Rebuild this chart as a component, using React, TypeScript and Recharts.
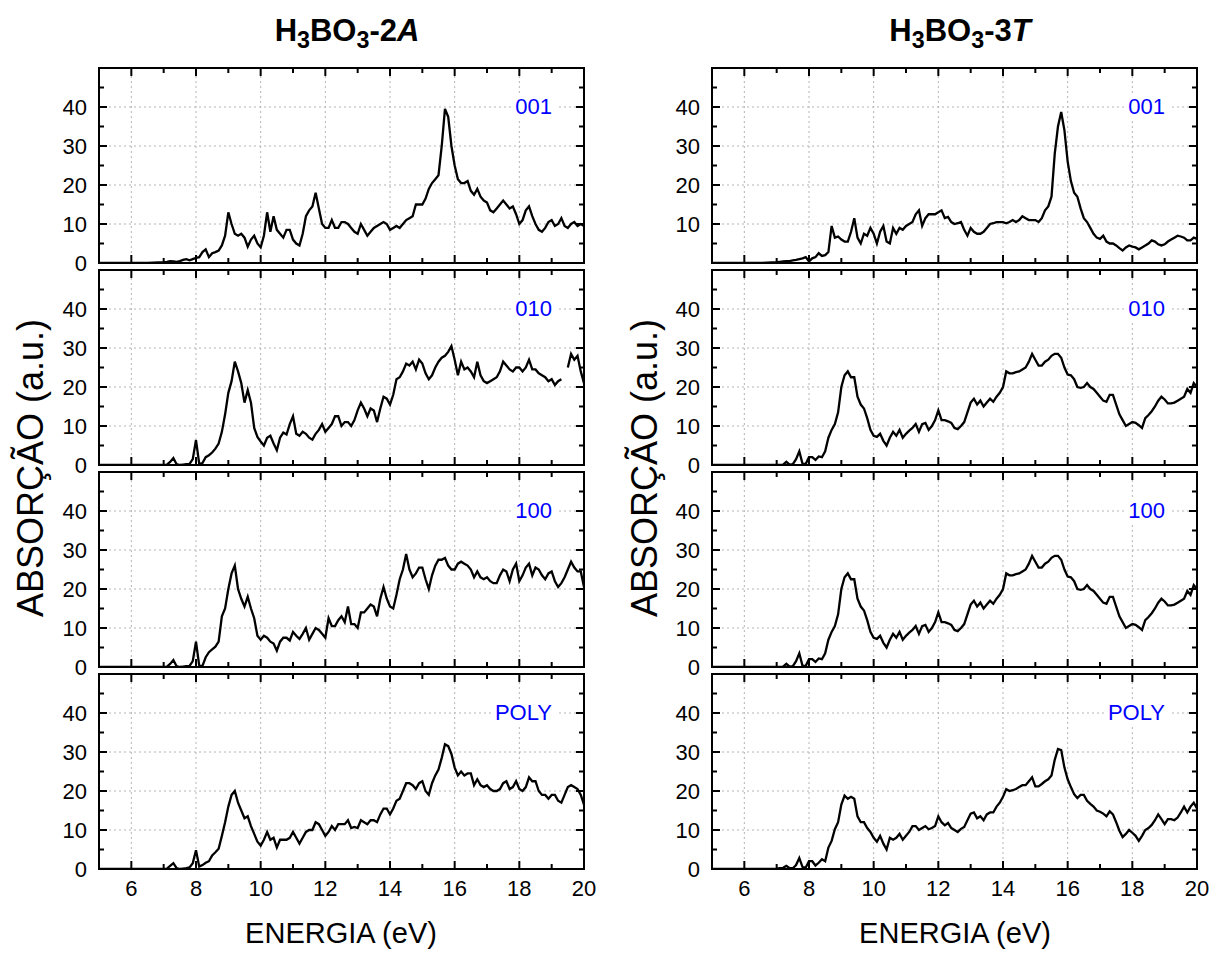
// Espectros de absorção do H3BO3 (fases 2A e 3T), quatro polarizações cada
import { LineChart, Line, XAxis, YAxis, ReferenceLine, ReferenceArea, ReferenceDot } from "recharts";

const FONTE = 'Arial, "Liberation Sans", sans-serif';

// eixo de energia (eV)
const energia = [
  5, 6, 6.5,
  7.0, 7.1, 7.2, 7.3, 7.4, 7.5, 7.6, 7.7, 7.8, 7.9,
  8.0, 8.1, 8.2, 8.3, 8.4, 8.5, 8.6, 8.7, 8.8, 8.9,
  9.0, 9.1, 9.2, 9.3, 9.4, 9.5, 9.6, 9.7, 9.8, 9.9,
  10.0, 10.1, 10.2, 10.3, 10.4, 10.5, 10.6, 10.7, 10.8, 10.9,
  11.0, 11.1, 11.2, 11.3, 11.4, 11.5, 11.6, 11.7, 11.8, 11.9,
  12.0, 12.1, 12.2, 12.3, 12.4, 12.5, 12.6, 12.7, 12.8, 12.9,
  13.0, 13.1, 13.2, 13.3, 13.4, 13.5, 13.6, 13.7, 13.8, 13.9,
  14.0, 14.1, 14.2, 14.3, 14.4, 14.5, 14.6, 14.7, 14.8, 14.9,
  15.0, 15.1, 15.2, 15.3, 15.4, 15.5, 15.6, 15.7, 15.8, 15.9,
  16.0, 16.1, 16.2, 16.3, 16.4, 16.5, 16.6, 16.7, 16.8, 16.9,
  17.0, 17.1, 17.2, 17.3, 17.4, 17.5, 17.6, 17.7, 17.8, 17.9,
  18.0, 18.1, 18.2, 18.3, 18.4, 18.5, 18.6, 18.7, 18.8, 18.9,
  19.0, 19.1, 19.2, 19.3, 19.4, 19.5, 19.6, 19.7, 19.8, 19.9,
  20.0,
];

// H3BO3-2A
const abs2A_001 = [
  0, 0, 0,
  0.2, 0.3, 0.5, 0.4, 0.3, 0.5, 0.8, 1.0, 0.7, 1.0,
  1.3, 1.5, 2.8, 3.5, 1.5, 2.5, 2.8, 3.2, 4.5, 7.0,
  13.0, 10.0, 7.5, 7.0, 7.5, 6.5, 4.2, 6.0, 7.0, 5.0,
  4.0, 7.0, 13.0, 8.0, 12.0, 8.5, 7.5, 6.5, 8.5, 8.5,
  6.0, 5.0, 4.5, 7.5, 12.0, 13.5, 14.5, 18.0, 14.0, 10.0,
  9.0, 9.0, 11.0, 9.0, 9.0, 10.5, 10.5, 10.0, 9.0, 8.0,
  7.5, 10.0, 8.5, 7.0, 8.0, 9.0, 9.5, 10.0, 10.5, 10.0,
  8.5, 9.0, 9.5, 9.0, 10.0, 11.0, 11.5, 12.0, 15.0, 15.0,
  15.0, 16.5, 19.0, 20.5, 21.5, 22.5, 30.0, 39.5, 37.5, 30.0,
  25.0, 21.5, 20.5, 20.5, 21.0, 18.5, 17.5, 19.0, 17.0, 16.0,
  15.5, 13.5, 13.0, 14.0, 15.0, 16.0, 15.0, 14.0, 14.5, 12.5,
  10.0, 11.0, 13.5, 14.5, 12.0, 10.0, 8.5, 8.0, 9.0, 10.5,
  11.0, 9.5, 10.0, 11.5, 9.5, 9.0, 10.0, 10.5, 9.5, 10.0,
  9.5,
];

const abs2A_010 = [
  0, 0, 0,
  0, 0.1, 0.8, 1.8, 0.2, 0, 0.1, 0.2, 0.3, 1.5,
  6.4, 0.3, 0.5, 2.0, 2.5, 3.2, 4.2, 5.5, 8.5, 13.0,
  18.5, 21.5, 26.5, 24.0, 21.0, 16.0, 19.2, 16.0, 9.5, 7.2,
  6.0, 5.0, 7.0, 7.5, 5.5, 3.8, 7.0, 8.3, 7.8, 10.5,
  12.5, 8.0, 7.5, 8.5, 8.0, 7.0, 6.5, 8.0, 9.0, 10.5,
  8.5, 9.5, 10.5, 12.5, 12.5, 10.0, 11.0, 11.0, 10.0, 11.5,
  14.0, 16.0, 14.5, 12.5, 14.5, 14.0, 11.0, 14.5, 17.5, 17.0,
  15.5, 18.0, 22.0, 22.5, 24.0, 26.0, 25.5, 26.5, 24.5, 27.0,
  26.0, 23.5, 22.0, 23.0, 25.0, 26.5, 27.5, 28.0, 29.0, 30.5,
  27.0, 23.0, 26.5, 24.5, 25.0, 24.0, 22.5, 26.5, 23.0, 21.5,
  21.0, 21.5, 22.0, 22.5, 24.0, 26.5, 25.5, 24.5, 24.0, 25.0,
  25.0, 24.0, 25.0, 27.0, 24.5, 24.5, 23.5, 23.0, 22.5, 21.5,
  22.0, 20.5, 21.5, 22.0, null, 25.0, 28.5, 27.0, 28.0, 24.0,
  21.0,
];

const abs2A_100 = [
  0, 0, 0,
  0, 0.1, 0.8, 1.8, 0.2, 0, 0.1, 0.2, 0.3, 1.5,
  6.5, 0.3, 0.3, 2.5, 3.8, 4.5, 5.2, 6.5, 13.0, 15.0,
  20.0, 24.0, 26.0, 20.0, 17.5, 15.5, 18.0, 15.0, 12.5, 8.0,
  7.0, 8.0, 7.5, 6.5, 6.0, 4.2, 6.5, 7.5, 7.5, 6.8,
  9.0, 8.0, 7.2, 8.5, 10.0, 7.0, 8.5, 10.0, 9.5, 8.5,
  7.5, 12.5, 10.5, 10.5, 12.0, 13.0, 11.5, 15.5, 11.0, 11.0,
  10.0, 14.0, 14.0, 15.0, 16.0, 15.5, 13.0, 17.5, 20.5, 17.5,
  15.5, 15.0, 18.5, 22.5, 25.0, 29.0, 25.0, 23.0, 24.0, 25.5,
  25.5, 22.5, 20.0, 23.5, 26.0, 27.5, 27.5, 28.0, 26.0, 25.0,
  25.0, 26.5, 27.0, 26.5, 26.0, 25.0, 23.0, 24.5, 23.0, 22.5,
  23.0, 22.0, 21.5, 21.5, 23.5, 25.0, 24.5, 22.0, 25.0, 26.5,
  22.0, 23.5, 25.5, 26.5, 23.5, 25.5, 25.0, 23.5, 22.5, 24.0,
  24.5, 22.0, 20.5, 21.5, 23.0, 25.0, 27.0, 25.5, 24.5, 24.5,
  20.5,
];

const abs2A_poly = [
  0, 0, 0,
  0, 0.1, 0.8, 1.5, 0.2, 0, 0.1, 0.2, 0.4, 1.5,
  4.8, 0.6, 1.0, 1.6, 2.0, 3.5, 4.3, 5.2, 8.5, 12.0,
  16.0, 19.0, 20.0, 17.0, 15.0, 13.0, 13.5, 11.0, 9.0, 7.0,
  6.0, 7.5, 9.5, 7.5, 8.0, 5.5, 7.5, 7.5, 7.5, 8.0,
  9.5, 8.0, 6.5, 8.0, 9.5, 10.0, 10.0, 12.0, 11.5, 10.0,
  8.5, 9.5, 11.0, 10.0, 11.5, 11.5, 11.5, 12.5, 10.5, 10.8,
  10.5, 12.5, 12.0, 11.5, 12.5, 12.5, 12.0, 14.0, 15.5, 15.5,
  14.0, 15.5, 17.5, 18.0, 20.0, 22.0, 22.0, 21.5, 20.5, 22.0,
  22.5, 20.0, 19.0, 22.0, 24.0, 25.5, 28.5, 32.0, 31.5, 29.5,
  26.0, 24.0, 25.0, 24.0, 24.5, 24.5, 21.5, 23.0, 21.5, 21.0,
  21.5, 20.5, 20.0, 20.0, 20.5, 22.0, 22.5, 20.5, 21.0, 22.5,
  20.5, 20.0, 21.0, 23.5, 22.5, 22.5, 20.0, 19.0, 19.0, 18.0,
  19.0, 19.0, 17.5, 17.0, 19.0, 21.0, 21.5, 21.0, 20.5, 19.0,
  16.5,
];

// H3BO3-3T
const abs3T_001 = [
  0, 0, 0,
  0.2, 0.3, 0.4, 0.5, 0.5, 0.7, 0.8, 1.0, 1.2, 1.5,
  0.4, 1.2, 1.5, 2.5, 1.8, 2.0, 2.8, 9.5, 6.5, 6.8,
  6.0, 5.5, 5.5, 8.0, 11.5, 6.5, 5.0, 7.5, 7.0, 9.0,
  7.5, 5.0, 8.0, 9.5, 5.5, 5.0, 9.0, 7.5, 9.0, 8.5,
  9.5, 10.0, 10.5, 12.5, 13.5, 9.5, 11.5, 12.5, 12.5, 12.5,
  13.0, 13.5, 11.5, 11.8, 10.5, 10.0, 10.2, 10.5, 8.5, 7.0,
  9.0, 8.0, 7.5, 7.5, 8.0, 9.0, 10.0, 10.2, 10.5, 10.5,
  10.5, 10.2, 10.5, 11.0, 10.5, 11.0, 12.0, 11.5, 11.0, 11.0,
  11.0, 10.5, 11.5, 13.5, 14.5, 17.0, 28.0, 35.0, 38.7, 34.0,
  26.0, 21.0, 18.0, 17.0, 14.0, 11.5, 10.5, 9.0, 7.5, 6.5,
  6.2, 7.0, 5.5, 5.0, 5.0, 4.5, 3.8, 3.2, 4.0, 4.5,
  4.2, 4.0, 3.5, 4.0, 4.5, 5.0, 5.8, 5.5, 4.8, 4.5,
  4.8, 5.5, 6.0, 6.5, 7.0, 6.8, 6.5, 5.8, 5.8, 6.5,
  6.2,
];

const abs3T_010 = [
  0, 0, 0,
  0, 0, 0.1, 0.8, 0.1, 0.2, 1.5, 3.5, 0.3, 0.3,
  2.0, 2.0, 1.3, 2.2, 2.0, 3.5, 7.0, 9.0, 10.5, 13.5,
  20.0, 23.0, 24.0, 22.5, 22.5, 17.5, 15.5, 14.5, 12.0, 9.0,
  7.5, 7.2, 8.0, 6.2, 5.0, 7.0, 8.5, 7.5, 9.0, 7.0,
  8.0, 8.8, 9.5, 10.5, 8.5, 10.5, 10.8, 9.0, 10.0, 11.5,
  14.0, 11.5, 11.5, 11.2, 10.8, 9.5, 9.2, 10.0, 11.0, 13.5,
  16.0, 17.0, 15.5, 16.5, 15.0, 16.0, 17.0, 16.2, 17.5, 18.5,
  20.0, 24.0, 23.5, 23.5, 23.8, 24.0, 24.5, 25.0, 26.5, 28.5,
  27.0, 25.5, 25.5, 26.5, 27.0, 28.0, 28.5, 28.5, 27.5, 25.0,
  23.2, 23.0, 22.0, 20.0, 19.8, 20.0, 21.0, 20.0, 19.5, 18.5,
  17.5, 16.5, 16.2, 18.0, 18.0, 15.5, 13.0, 11.5, 10.0, 10.5,
  11.0, 10.8, 10.2, 9.5, 12.0, 12.8, 13.8, 15.0, 16.5, 17.5,
  16.8, 15.8, 15.8, 16.0, 16.5, 17.0, 17.5, 19.5, 18.5, 21.0,
  20.0,
];

// na figura, 100 e 010 da fase 3T coincidem
const abs3T_100 = abs3T_010;

const abs3T_poly = [
  0, 0, 0,
  0.1, 0.2, 0.3, 0.8, 0.2, 0.2, 1.0, 2.8, 0.5, 0.4,
  2.0, 2.0, 0.9, 1.6, 2.5, 2.0, 5.5, 7.2, 10.2, 12.0,
  16.5, 18.8, 18.0, 18.5, 18.0, 13.5, 12.0, 12.0, 10.5, 9.5,
  8.0, 7.0, 8.5, 6.5, 5.0, 8.0, 7.5, 8.0, 9.0, 7.5,
  8.5, 9.5, 11.0, 11.0, 10.0, 10.5, 11.0, 10.2, 10.5, 11.0,
  13.5, 12.0, 11.2, 11.8, 10.5, 10.0, 9.5, 10.3, 10.8, 12.5,
  14.2, 14.5, 13.0, 13.5, 12.5, 14.0, 14.5, 14.5, 16.0, 17.0,
  18.5, 20.5, 20.0, 20.2, 20.5, 21.0, 21.5, 21.5, 22.5, 23.5,
  21.2, 21.2, 21.8, 22.5, 23.0, 24.0, 28.0, 30.8, 30.5, 26.0,
  23.0, 21.0, 19.2, 18.2, 19.0, 19.0, 17.5, 16.7, 16.0, 15.0,
  14.7, 14.2, 13.5, 14.8, 14.0, 12.0, 9.8, 8.2, 9.0, 10.0,
  9.3, 8.5, 7.2, 8.5, 10.0, 10.5, 11.3, 12.5, 14.0, 12.8,
  11.5, 12.8, 12.8, 12.5, 13.2, 14.5, 16.0, 14.5, 16.0, 17.0,
  15.5,
];

const rotulos = ["001", "010", "100", "POLY"];
const ticksXMaior = [6, 8, 10, 12, 14, 16, 18];
const ticksXMenor = [7, 9, 11, 13, 15, 17, 19];
const ticksYMaior = [10, 20, 30, 40];
const ticksYMenor = [5, 15, 25, 35, 45];
const rotulosX = [6, 8, 10, 12, 14, 16, 18, 20];
const rotulosY = [0, 10, 20, 30, 40];
const rotulosYSemZero = [10, 20, 30, 40];

const X_MIN = 5;
const X_MAX = 20;
const Y_MAX = 50;
const PLOT_W = 485;
const PLOT_H = 195;
const EIXO_Y_W = 99;
const MARGEM = 14;
const textoTick = { fontSize: 22, fill: "#000", fontFamily: FONTE };
const grade = { stroke: "#b4b4b4", strokeWidth: 1, strokeDasharray: "2 3" };

// marcas para dentro nos quatro lados: ponto no eixo + direção/comprimento em px
const marcas = [
  ...ticksXMaior.flatMap((x) => [
    { x, y: 0, dx: 0, dy: -8 },
    { x, y: Y_MAX, dx: 0, dy: 8 },
  ]),
  ...ticksXMenor.flatMap((x) => [
    { x, y: 0, dx: 0, dy: -5 },
    { x, y: Y_MAX, dx: 0, dy: 5 },
  ]),
  ...ticksYMaior.flatMap((y) => [
    { x: X_MIN, y, dx: 8, dy: 0 },
    { x: X_MAX, y, dx: -8, dy: 0 },
  ]),
  ...ticksYMenor.flatMap((y) => [
    { x: X_MIN, y, dx: 5, dy: 0 },
    { x: X_MAX, y, dx: -5, dy: 0 },
  ]),
];

function Painel({ serie, rotulo, esquerda, topo, ultimo, rotulados }) {
  const dados = energia.map((e, i) => ({ e, v: serie[i] }));
  const alturaX = ultimo ? 40 : 0;
  const margemBaixo = ultimo ? 2 : MARGEM;
  const largura = EIXO_Y_W + PLOT_W + 16;
  return (
    <div style={{ position: "absolute", left: esquerda, top: topo - MARGEM }}>
      <LineChart
        width={largura}
        height={PLOT_H + MARGEM + margemBaixo + alturaX}
        data={dados}
        margin={{ top: MARGEM, right: 16, bottom: margemBaixo, left: 0 }}
      >
        <XAxis
          type="number"
          dataKey="e"
          domain={[X_MIN, X_MAX]}
          allowDataOverflow
          ticks={rotulosX}
          interval={0}
          hide={!ultimo}
          height={alturaX}
          tickSize={0}
          tickMargin={11}
          axisLine={false}
          tickLine={false}
          tick={textoTick}
        />
        <YAxis
          type="number"
          domain={[0, Y_MAX]}
          allowDataOverflow
          ticks={rotulados}
          interval={0}
          width={EIXO_Y_W}
          tickSize={0}
          tickMargin={12}
          axisLine={false}
          tickLine={false}
          tick={textoTick}
        />
        {ticksXMaior.map((x) => (
          <ReferenceLine key={`gx${x}`} x={x} {...grade} />
        ))}
        {ticksYMaior.map((y) => (
          <ReferenceLine key={`gy${y}`} y={y} {...grade} />
        ))}
        <Line
          type="linear"
          dataKey="v"
          stroke="#000"
          strokeWidth={2.3}
          dot={false}
          isAnimationActive={false}
        />
        {marcas.map((m, i) => (
          <ReferenceDot
            key={`m${i}`}
            x={m.x}
            y={m.y}
            ifOverflow="visible"
            shape={(p) => (
              <line
                x1={p.cx}
                y1={p.cy}
                x2={p.cx + m.dx}
                y2={p.cy + m.dy}
                stroke="#000"
                strokeWidth={2}
              />
            )}
          />
        ))}
        <ReferenceArea
          x1={X_MIN}
          x2={X_MAX}
          y1={0}
          y2={Y_MAX}
          fill="none"
          stroke="#000"
          strokeWidth={2}
          ifOverflow="visible"
        />
      </LineChart>
      <div
        style={{
          position: "absolute",
          right: largura - (EIXO_Y_W + PLOT_W - 28),
          top: MARGEM + PLOT_H * 0.2 - 13,
          lineHeight: "26px",
          fontSize: 22,
          fontFamily: FONTE,
          color: "#0000ff",
          background: "#fff",
          padding: "0 4px",
        }}
      >
        {rotulo}
      </div>
    </div>
  );
}

function Titulo({ fase, letra, centro }) {
  const sub = { fontSize: "0.75em", position: "relative", top: "0.3em" } as const;
  return (
    <div
      style={{
        position: "absolute",
        left: centro - 150,
        width: 300,
        top: 13,
        textAlign: "center",
        fontFamily: FONTE,
        fontWeight: "bold",
        fontSize: 31,
      }}
    >
      H<span style={sub}>3</span>BO<span style={sub}>3</span>-{fase}
      <i>{letra}</i>
    </div>
  );
}

const textoEixo = { position: "absolute", fontFamily: FONTE, fontSize: 29, textAlign: "center" } as const;

export default function App() {
  const colunas = [
    { esquerda: 0, series: [abs2A_001, abs2A_010, abs2A_100, abs2A_poly] },
    { esquerda: 613, series: [abs3T_001, abs3T_010, abs3T_100, abs3T_poly] },
  ];
  return (
    <div style={{ position: "absolute", left: 0, top: 0, width: 1211, height: 954, background: "#fff" }}>
      <Titulo fase="2" letra="A" centro={347} />
      <Titulo fase="3" letra="T" centro={960} />
      {colunas.map((c, ci) =>
        c.series.map((s, k) => (
          <Painel
            key={`${ci}-${k}`}
            serie={s}
            rotulo={rotulos[k]}
            esquerda={c.esquerda}
            topo={68 + 202 * k}
            ultimo={k === 3}
            rotulados={ci === 1 && k === 0 ? rotulosYSemZero : rotulosY}
          />
        ))
      )}
      <div style={{ ...textoEixo, left: 341 - 200, width: 400, top: 917 }}>ENERGIA (eV)</div>
      <div style={{ ...textoEixo, left: 955 - 200, width: 400, top: 917 }}>ENERGIA (eV)</div>
      {[31, 645].map((cx) => (
        <div
          key={cx}
          style={{
            ...textoEixo,
            fontSize: 36,
            left: cx - 200,
            top: 468 - 22,
            width: 400,
            height: 44,
            lineHeight: "44px",
            transform: "rotate(-90deg)",
          }}
        >
          ABSORÇÃO (a.u.)
        </div>
      ))}
    </div>
  );
}
